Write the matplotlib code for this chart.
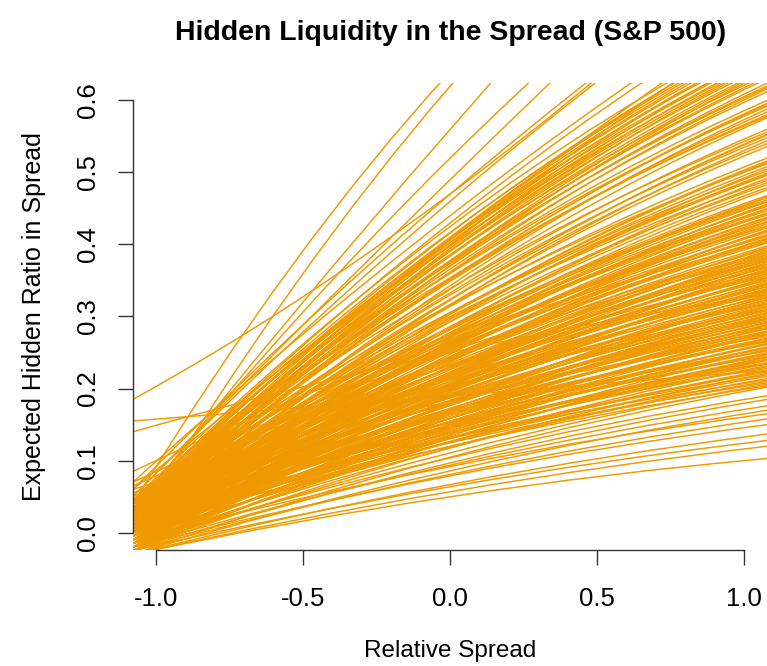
import numpy as np
from matplotlib import pyplot as plt
from matplotlib.path import Path
from matplotlib.patches import PathPatch

plt.rcParams['font.family'] = ['Liberation Sans', 'DejaVu Sans']
plt.rcParams['axes.unicode_minus'] = False

# relative spread at the two ends and the middle of each stock curve
x_grid = [-1.08, 0.0, 1.08]

# expected hidden ratio per stock at left / middle / right
# steep names that leave the top of the panel
steep_left = [0.040, 0.000, 0.030, 0.030, 0.050, 0.185, 0.060, 0.050, 0.070, 0.040, 0.060, 0.030]
steep_mid = [0.640, 0.620, 0.560, 0.520, 0.490, 0.470, 0.470, 0.460, 0.440, 0.430, 0.410, 0.400]
steep_right = [1.000, 1.020, 1.040, 0.900, 0.910, 0.840, 0.810, 0.800, 0.750, 0.735, 0.725, 0.710]

# odd ones: flat high starters and the lowest stock
odd_left = [0.155, 0.140, -0.030]
odd_mid = [0.190, 0.250, 0.050]
odd_right = [0.225, 0.330, 0.103]

upper_left = [0.045, 0.030, 0.040, 0.020, 0.035, 0.025, 0.040, 0.010, 0.030, 0.020, 0.045, 0.015,
              0.035, 0.025, 0.000, 0.040, 0.020, 0.030,
              0.020, 0.035, 0.010, 0.025,
              0.030, 0.015, 0.040, 0.005, 0.025, 0.035, 0.010,
              0.020, 0.040, 0.010, 0.030, 0.000, 0.025, 0.015,
              0.010, 0.025, 0.005, 0.040, 0.030, 0.010, 0.040, 0.020, 0.045, 0.005, 0.015, 0.040]
upper_mid = [0.425, 0.416, 0.417, 0.406, 0.409, 0.403, 0.407, 0.392, 0.398, 0.391, 0.399, 0.385,
             0.391, 0.384, 0.371, 0.386, 0.376, 0.378,
             0.370, 0.374, 0.362, 0.366,
             0.361, 0.352, 0.360, 0.343, 0.349, 0.351, 0.338,
             0.333, 0.339, 0.324, 0.330, 0.316, 0.324, 0.317,
             0.409, 0.410, 0.395, 0.403, 0.392, 0.377, 0.375, 0.353, 0.354, 0.323, 0.304, 0.305]
upper_right = [0.700, 0.695, 0.690, 0.685, 0.680, 0.676, 0.672, 0.668, 0.664, 0.660, 0.656, 0.652,
               0.648, 0.644, 0.640, 0.636, 0.633, 0.630,
               0.624, 0.620, 0.616, 0.612,
               0.600, 0.596, 0.592, 0.588, 0.584, 0.580, 0.576,
               0.560, 0.556, 0.552, 0.548, 0.544, 0.540, 0.536,
               0.698, 0.688, 0.678, 0.666, 0.654, 0.642, 0.618, 0.594, 0.578, 0.553, 0.514, 0.497]

middle_left = [0.030, 0.010, 0.045, 0.020, 0.000, 0.035, 0.015, 0.025, -0.005, 0.040, 0.010, 0.030,
               0.020, 0.005,
               0.025, 0.005, 0.040, 0.015, -0.005, 0.030, 0.010, 0.020, 0.000, 0.035, 0.015, -0.010,
               0.025, 0.005, 0.045, 0.020, -0.005, 0.030, 0.010, 0.040, 0.000, 0.020, 0.015, 0.085,
               0.015, 0.035, 0.000, 0.025, 0.045, 0.005, 0.020, 0.040, -0.005, 0.030, 0.010, 0.025]
middle_mid = [0.314, 0.304, 0.316, 0.303, 0.293, 0.306, 0.296, 0.298, 0.283, 0.300, 0.286, 0.293,
              0.286, 0.278,
              0.282, 0.272, 0.285, 0.273, 0.262, 0.275, 0.265, 0.268, 0.258, 0.271, 0.260, 0.248,
              0.261, 0.251, 0.266, 0.254, 0.242, 0.255, 0.244, 0.255, 0.237, 0.245, 0.241, 0.269,
              0.277, 0.282, 0.264, 0.271, 0.276, 0.256, 0.258, 0.263, 0.241, 0.252, 0.241, 0.244]
middle_right = [0.520, 0.516, 0.512, 0.508, 0.505, 0.502, 0.499, 0.496, 0.492, 0.489, 0.486, 0.483,
                0.479, 0.476,
                0.468, 0.465, 0.462, 0.459, 0.456, 0.453, 0.450, 0.447, 0.444, 0.441, 0.438, 0.435,
                0.432, 0.429, 0.426, 0.423, 0.420, 0.417, 0.414, 0.411, 0.409, 0.407, 0.405, 0.403,
                0.466, 0.460, 0.455, 0.449, 0.443, 0.437, 0.431, 0.425, 0.419, 0.413, 0.408, 0.402]

core_left = [0.020, 0.000, 0.035, -0.010, 0.010, 0.025, -0.005, 0.070, 0.005, 0.015, -0.015, 0.030,
             0.000, 0.020, -0.020, 0.040, 0.010, -0.005, 0.025, 0.065, 0.005, 0.015, -0.010, 0.030,
             0.000, 0.020, -0.015, 0.035, 0.010, 0.055, -0.005, 0.025, 0.005, -0.020, 0.015, 0.030,
             0.000, -0.010, 0.020, 0.050, 0.010, -0.015, 0.025, 0.005, -0.025,
             0.005, 0.030, -0.015, 0.020, 0.000, 0.040, 0.010, -0.020, 0.025, 0.005, 0.035, -0.010,
             0.015, 0.000, 0.030, -0.025, 0.010, 0.045, -0.005, 0.020, 0.000, -0.015, 0.025, 0.005,
             -0.020]
core_mid = [0.239, 0.230, 0.243, 0.223, 0.230, 0.235, 0.221, 0.251, 0.223, 0.226, 0.211, 0.229,
            0.215, 0.222, 0.204, 0.228, 0.214, 0.207, 0.218, 0.233, 0.207, 0.210, 0.198, 0.213,
            0.200, 0.207, 0.190, 0.210, 0.199, 0.216, 0.189, 0.201, 0.191, 0.180, 0.193, 0.198,
            0.184, 0.179, 0.189, 0.201, 0.183, 0.171, 0.187, 0.177, 0.164,
            0.231, 0.239, 0.218, 0.229, 0.219, 0.233, 0.218, 0.202, 0.219, 0.207, 0.218, 0.196,
            0.204, 0.195, 0.205, 0.179, 0.192, 0.203, 0.180, 0.188, 0.177, 0.168, 0.183, 0.172,
            0.159]
core_right = [0.398, 0.396, 0.393, 0.391, 0.389, 0.387, 0.384, 0.382, 0.380, 0.378, 0.375, 0.373,
              0.371, 0.369, 0.366, 0.364, 0.362, 0.360, 0.357, 0.355, 0.353, 0.351, 0.348, 0.346,
              0.344, 0.342, 0.339, 0.337, 0.335, 0.333, 0.330, 0.328, 0.326, 0.324, 0.321, 0.319,
              0.317, 0.315, 0.312, 0.310, 0.308, 0.306, 0.304, 0.302, 0.300,
              0.395, 0.390, 0.386, 0.381, 0.377, 0.372, 0.368, 0.363, 0.359, 0.354, 0.350, 0.345,
              0.341, 0.336, 0.332, 0.327, 0.323, 0.318, 0.314, 0.309, 0.305, 0.301, 0.297, 0.292,
              0.288]

lower_left = [0.010, -0.010, 0.025, 0.000, -0.020, 0.015, 0.035, -0.005, 0.005, -0.025, 0.020, 0.000,
              0.060, -0.015, 0.010, 0.030, -0.010, 0.005, -0.020, 0.015, 0.000, 0.045, -0.025, 0.010,
              0.025, -0.005, 0.005, -0.015, 0.020, 0.000, -0.020, 0.010, 0.035, -0.010, 0.005, -0.025,
              0.015, 0.000, -0.015, 0.020, -0.005, 0.010, -0.020, 0.005, -0.030,
              0.000, 0.020, -0.010, 0.005, 0.030, -0.020, 0.010, -0.005, 0.015, -0.025, 0.000, 0.020,
              -0.010,
              -0.015, -0.025, -0.020, -0.030, -0.010, -0.025, -0.020, -0.030, -0.025, -0.030]
lower_mid = [0.177, 0.168, 0.181, 0.169, 0.159, 0.173, 0.180, 0.162, 0.165, 0.151, 0.169, 0.159,
             0.183, 0.150, 0.159, 0.166, 0.148, 0.154, 0.141, 0.155, 0.147, 0.165, 0.135, 0.148,
             0.153, 0.139, 0.142, 0.132, 0.145, 0.136, 0.126, 0.138, 0.147, 0.126, 0.131, 0.118,
             0.133, 0.126, 0.118, 0.131, 0.120, 0.125, 0.111, 0.120, 0.105,
             0.165, 0.170, 0.155, 0.159, 0.167, 0.144, 0.153, 0.145, 0.150, 0.131, 0.139, 0.145,
             0.127,
             0.104, 0.097, 0.094, 0.086, 0.092, 0.081, 0.079, 0.067, 0.064, 0.057]
lower_right = [0.298, 0.296, 0.294, 0.291, 0.289, 0.287, 0.285, 0.283, 0.280, 0.278, 0.276, 0.274,
               0.272, 0.269, 0.267, 0.265, 0.263, 0.261, 0.258, 0.256, 0.254, 0.252, 0.250, 0.247,
               0.245, 0.243, 0.241, 0.239, 0.236, 0.234, 0.232, 0.230, 0.228, 0.225, 0.223, 0.221,
               0.219, 0.217, 0.214, 0.212, 0.210, 0.208, 0.206, 0.204, 0.202,
               0.284, 0.279, 0.275, 0.270, 0.266, 0.262, 0.257, 0.253, 0.248, 0.244, 0.240, 0.235,
               0.226,
               0.190, 0.185, 0.176, 0.170, 0.165, 0.158, 0.150, 0.137, 0.128, 0.120]

x_ticks = [-1.0, -0.5, 0.0, 0.5, 1.0]
x_ticklabels = ['-1.0', '-0.5', '0.0', '0.5', '1.0']
y_ticks = [0.0, 0.1, 0.2, 0.3, 0.4, 0.5, 0.6]
y_ticklabels = ['0.0', '0.1', '0.2', '0.3', '0.4', '0.5', '0.6']

left_vals = steep_left + odd_left + upper_left + middle_left + core_left + lower_left
mid_vals = steep_mid + odd_mid + upper_mid + middle_mid + core_mid + lower_mid
right_vals = steep_right + odd_right + upper_right + middle_right + core_right + lower_right

fig = plt.figure(figsize=(7.67, 6.66), dpi=100)
ax = fig.add_axes([0.1734, 0.1742, 0.8272, 0.7012])

# each stock as a smooth quadratic curve through its three values
codes = [Path.MOVETO, Path.CURVE3, Path.CURVE3]
for yl, ym, yr in zip(left_vals, mid_vals, right_vals):
    ctrl = 2 * ym - (yl + yr) / 2
    verts = [(x_grid[0], yl), (x_grid[1], ctrl), (x_grid[2], yr)]
    ax.add_patch(PathPatch(Path(verts, codes), fill=False, edgecolor='#ee9a00', lw=1.05))

ax.set_xlim(-1.08, 1.08)
ax.set_ylim(-0.024, 0.624)

for side in ['top', 'right']:
    ax.spines[side].set_visible(False)
ax.spines['left'].set_bounds(0.0, 0.6)
ax.spines['bottom'].set_bounds(-1.0, 1.0)
for side in ['left', 'bottom']:
    ax.spines[side].set_color('#333333')
    ax.spines[side].set_linewidth(1.0)

ax.set_xticks(x_ticks)
ax.set_xticklabels(x_ticklabels)
ax.set_yticks(y_ticks)
ax.set_yticklabels(y_ticklabels, rotation=90, va='center')
ax.tick_params(length=10.5, width=1.0, color='#333333', labelsize=18.5)
ax.tick_params(axis='x', pad=16)
ax.tick_params(axis='y', pad=13)

ax.set_xlabel('Relative Spread', fontsize=17.5, labelpad=21)
ax.set_ylabel('Expected Hidden Ratio in Spread', fontsize=18, labelpad=22)
ax.set_title('Hidden Liquidity in the Spread (S&P 500)', fontsize=20.5, fontweight='bold', pad=31)

plt.savefig('out.png', dpi=100)
